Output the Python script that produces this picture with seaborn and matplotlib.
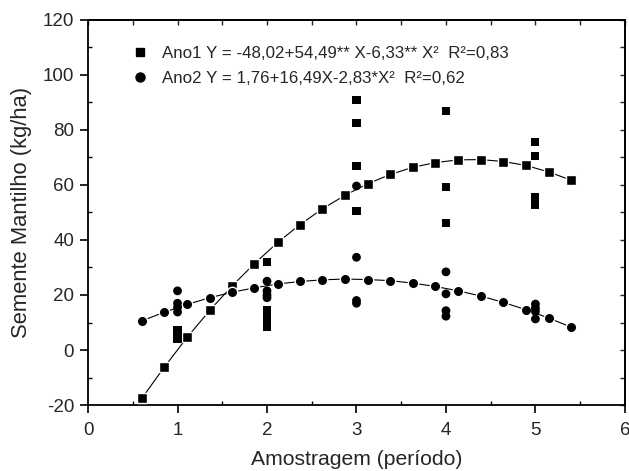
import matplotlib
matplotlib.use("Agg")
import matplotlib.pyplot as plt
from matplotlib.lines import Line2D
from matplotlib.ticker import MultipleLocator
import seaborn as sns
import pandas as pd

# ---- data ----
# observed samples
ano1_x = [1, 1, 1, 1, 2, 2, 2, 2, 2, 2, 3, 3, 3, 3, 4, 4, 4, 5, 5, 5, 5]
ano1_y = [4.2, 5.2, 6.2, 7.2, 32.0, 14.5, 13.0, 11.5, 10.0, 8.5,
          91.0, 82.5, 66.8, 50.5, 87.0, 59.3, 46.2, 75.6, 70.5, 55.5, 52.7]
ano2_x = [1, 1, 1, 1, 2, 2, 2, 2, 3, 3, 3, 3, 4, 4, 4, 4, 5, 5, 5, 5]
ano2_y = [21.5, 17.0, 15.5, 13.8, 25.0, 21.5, 20.0, 19.0,
          59.6, 33.7, 18.0, 17.0, 28.4, 20.4, 14.3, 12.3, 16.7, 15.2, 14.0, 11.3]

# fitted curves
curve_x = [0.60, 0.85, 1.11, 1.36, 1.61, 1.86, 2.12, 2.37, 2.62, 2.87,
           3.13, 3.38, 3.63, 3.88, 4.14, 4.39, 4.64, 4.89, 5.15, 5.40]
curve1_y = [-17.6, -6.3, 4.7, 14.4, 23.3, 31.4, 39.1, 45.6, 51.3, 56.2,
            60.5, 63.8, 66.4, 68.1, 69.1, 69.2, 68.5, 67.1, 64.7, 61.7]
curve2_y = [10.6, 13.7, 16.6, 19.0, 21.0, 22.6, 24.0, 24.9, 25.5, 25.8,
            25.6, 25.2, 24.3, 23.1, 21.5, 19.6, 17.3, 14.7, 11.6, 8.3]

legend_labels = ["Ano1 Y = -48,02+54,49** X-6,33** X²  R²=0,83",
                 "Ano2 Y = 1,76+16,49X-2,83*X²  R²=0,62"]
x_ticks = [0, 1, 2, 3, 4, 5, 6]
y_ticks = [-20, 0, 20, 40, 60, 80, 100, 120]

# ---- plotting ----
sns.set_style("white")
plt.rcParams["font.family"] = ["Liberation Sans", "DejaVu Sans"]

fig = plt.figure(figsize=(6.29, 4.71), dpi=100)
ax = fig.add_axes([0.140, 0.140, 0.8535, 0.818])

obs1 = pd.DataFrame({"x": ano1_x, "y": ano1_y})
obs2 = pd.DataFrame({"x": ano2_x, "y": ano2_y})
c1 = pd.DataFrame({"x": curve_x, "y": curve1_y})
c2 = pd.DataFrame({"x": curve_x, "y": curve2_y})

sns.lineplot(data=c1, x="x", y="y", ax=ax, color="black", linewidth=0.8,
             marker="s", markersize=7, markeredgecolor="white",
             markeredgewidth=1.0, markerfacecolor="black", zorder=3)
sns.lineplot(data=c2, x="x", y="y", ax=ax, color="black", linewidth=0.8,
             marker="o", markersize=7.5, markeredgecolor="white",
             markeredgewidth=1.0, markerfacecolor="black", zorder=3)
sns.scatterplot(data=obs1, x="x", y="y", ax=ax, marker="s", s=34,
                color="black", edgecolor="none", zorder=4)
sns.scatterplot(data=obs2, x="x", y="y", ax=ax, marker="o", s=40,
                color="black", edgecolor="none", zorder=4)

ax.set_xlim(0, 6)
ax.set_ylim(-20, 120)
ax.set_xticks(x_ticks)
ax.set_xticklabels([str(t) for t in x_ticks])
ax.set_yticks(y_ticks)
ax.set_yticklabels([str(t) for t in y_ticks])
ax.xaxis.set_minor_locator(MultipleLocator(0.5))
ax.yaxis.set_minor_locator(MultipleLocator(10))

ax.tick_params(which="major", direction="out", length=6, width=1.2,
               labelsize=13.5, color="black", pad=4)
ax.tick_params(axis="x", which="major", pad=6)
ax.tick_params(which="minor", direction="in", length=3, width=1.0,
               color="black")
ax.tick_params(axis="both", which="both", top=False, right=False,
               bottom=True, left=True)

for sp in ax.spines.values():
    sp.set_visible(True)
    sp.set_color("black")
    sp.set_linewidth(1.3)

# inward ticks on top and right
top = ax.secondary_xaxis("top")
top.xaxis.set_major_locator(MultipleLocator(0.5))
top.tick_params(direction="in", length=3.5, width=1.0, labeltop=False)
top.spines["top"].set_linewidth(1.3)
right = ax.secondary_yaxis("right")
right.yaxis.set_major_locator(MultipleLocator(10))
right.tick_params(direction="in", length=3.5, width=1.0, labelright=False)
right.spines["right"].set_linewidth(1.3)

ax.set_xlabel("Amostragem (período)", fontsize=15.2, labelpad=8)
ax.set_ylabel("Semente Mantilho (kg/ha)", fontsize=15.8, labelpad=8)

handles = [Line2D([], [], linestyle="none", marker="s", color="black", markersize=6),
           Line2D([], [], linestyle="none", marker="o", color="black", markersize=6.5)]
ax.legend(handles, legend_labels, loc="upper left", frameon=False,
          fontsize=12.2, bbox_to_anchor=(0.068, 0.95), handlelength=1.0,
          handletextpad=0.8, labelspacing=0.62, borderaxespad=0)

fig.savefig("out.png", dpi=100)
